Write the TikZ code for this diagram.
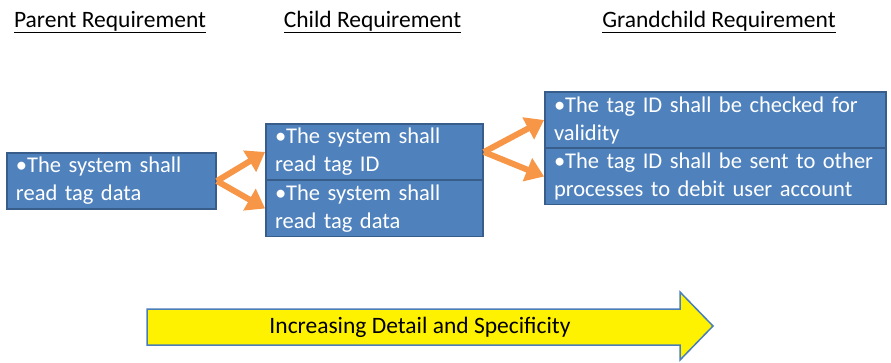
\documentclass[tikz,border=0pt]{standalone}
\usepackage{fontspec}
\setmainfont{Carlito}
\usetikzlibrary{arrows.meta}
\definecolor{boxblue}{HTML}{4F81BD}
\definecolor{boxedge}{HTML}{385D8A}
\definecolor{linkorange}{HTML}{F79646}
\definecolor{arrowedge}{HTML}{4A7EBB}

\begin{document}
\begin{tikzpicture}[x=1pt,y=-1pt,
  heading/.style={font=\fontsize{23.5}{28}\selectfont,inner sep=0pt,anchor=base},
  req/.style={draw=boxedge,line width=1.8pt,fill=boxblue,text=white,align=left,
    font=\fontsize{22.5}{28}\selectfont,inner xsep=9pt,inner ysep=0pt,minimum height=56pt},
  link/.style={draw=linkorange,line width=6pt,-{Triangle[length=18pt,width=24pt]}}]
\useasboundingbox (0,0) rectangle (891,362);
% headings
\node[heading] at (110,27) (hP) {\underline{Parent Requirement}};
\node[heading] at (372.5,27) (hC) {\underline{Child Requirement}};
\node[heading] at (719,27) (hG) {\underline{Grandchild Requirement}};
% requirement boxes
\node[req,text width=191pt] at (111.5,181) (P) {\textbullet The system shall\\read tag data};
\node[req,text width=199pt] at (374.5,152) (C1) {\textbullet The system shall\\read tag ID};
\node[req,text width=199pt] at (374.5,208.5) (C2) {\textbullet The system shall\\read tag data};
\node[req,text width=323pt] at (715.5,120) (G1) {\textbullet The tag ID shall be checked for\\validity};
\node[req,text width=323pt] at (715.5,176.5) (G2) {\textbullet The tag ID shall be sent to other\\processes to debit user account};
\draw[link] (P.east) -- (C1.west);
\draw[link] (P.east) -- (C2.west);
\draw[link] (C1.east) -- (G1.west);
\draw[link] (C1.east) -- (G2.west);
% big arrow
\draw[draw=arrowedge,line width=1.5pt,fill=yellow] (147,309) -- (680,309) -- (680,292)
  -- (713,326) -- (680,360) -- (680,345) -- (147,345) -- cycle;
\node[font=\fontsize{23.5}{28}\selectfont] at (420,327) (trend) {Increasing Detail and Specificity};
\end{tikzpicture}
\end{document}
